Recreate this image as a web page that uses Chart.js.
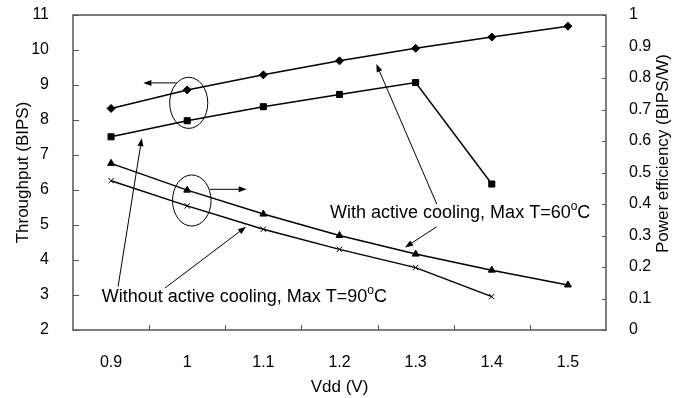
<!DOCTYPE html>
<html>
<head>
<meta charset="utf-8">
<script src="https://cdn.jsdelivr.net/npm/chart.js@4/dist/chart.umd.min.js"></script>
<style>
html,body{margin:0;padding:0;background:#fff;}
#wrap{width:684px;height:398px;}
</style>
</head>
<body>
<div id="wrap"><canvas id="c" width="684" height="398"></canvas></div>
<script>
// ---- data ----
const vddLabels = ['0.9', '1', '1.1', '1.2', '1.3', '1.4', '1.5'];
const throughputActive = [8.33, 8.86, 9.29, 9.69, 10.05, 10.37, 10.68];
const throughputPassive = [7.52, 7.98, 8.38, 8.73, 9.07, 6.17, null];
const efficiencyActive = [0.529, 0.444, 0.368, 0.300, 0.241, 0.190, 0.143];
const efficiencyPassive = [0.474, 0.394, 0.320, 0.256, 0.198, 0.106, null];
const leftTicks = [2, 3, 4, 5, 6, 7, 8, 9, 10, 11];
const rightTicks = [0, 0.1, 0.2, 0.3, 0.4, 0.5, 0.6, 0.7, 0.8, 0.9, 1];
const textWith = ['With active cooling, Max T=60', 'o', 'C'];
const textWithout = ['Without active cooling, Max T=90', 'o', 'C'];
const leftTitle = 'Throughput (BIPS)';
const rightTitle = 'Power efficiency (BIPS/W)';
const xTitle = 'Vdd (V)';

const FONT = "'Liberation Sans', Arial, Helvetica, sans-serif";

// annotation geometry in data units (x: category index, y: left axis value)
const ellipses = [
  {cx: 1.02, cy: 8.49, rx: 0.25, ry: 0.73},
  {cx: 1.06, cy: 5.70, rx: 0.253, ry: 0.73}
];
const arrows = [
  {x1: 0.862, y1: 9.06, x2: 0.424, y2: 9.06},
  {x1: 1.30, y1: 6.02, x2: 1.78, y2: 6.02},
  {x1: 0.092, y1: 3.24, x2: 0.403, y2: 7.48},
  {x1: 0.708, y1: 3.20, x2: 1.772, y2: 4.95},
  {x1: 4.277, y1: 5.60, x2: 3.484, y2: 9.60},
  {x1: 4.277, y1: 4.95, x2: 3.861, y2: 4.36}
];
const texts = [
  {parts: textWith, x: 2.876, y: 5.33},
  {parts: textWithout, x: -0.123, y: 2.93}
];

const annot = {
  id: 'annot',
  afterDraw(chart) {
    const ctx = chart.ctx;
    const xs = chart.scales.x, ys = chart.scales.y, y2 = chart.scales.y2;
    const X = v => xs.getPixelForValue(v);
    const Y = v => ys.getPixelForValue(v);
    const a = chart.chartArea;
    ctx.save();
    // frame
    ctx.strokeStyle = '#3a3a3a';
    ctx.lineWidth = 1.3;
    ctx.strokeRect(a.left, a.top, a.right - a.left, a.bottom - a.top);
    // inward ticks
    ctx.lineWidth = 1;
    ctx.strokeStyle = '#555';
    ctx.beginPath();
    leftTicks.forEach(v => {
      const py = Math.round(Y(v)) + 0.5;
      ctx.moveTo(a.left, py); ctx.lineTo(a.left + 6, py);
    });
    rightTicks.forEach(v => {
      const py = Math.round(y2.getPixelForValue(v)) + 0.5;
      ctx.moveTo(a.right, py); ctx.lineTo(a.right - 4, py);
    });
    for (let i = 0; i < vddLabels.length - 1; i++) {
      const px = Math.round(X(i + 0.5)) + 0.5;
      ctx.moveTo(px, a.bottom); ctx.lineTo(px, a.bottom - 5);
    }
    ctx.stroke();

    // ellipses
    ctx.strokeStyle = '#000';
    ctx.lineWidth = 1;
    ellipses.forEach(e => {
      ctx.beginPath();
      ctx.ellipse(X(e.cx), Y(e.cy), Math.abs(X(e.cx + e.rx) - X(e.cx)), Math.abs(Y(e.cy + e.ry) - Y(e.cy)), 0, 0, Math.PI * 2);
      ctx.stroke();
    });
    // arrows
    arrows.forEach(r => {
      const px1 = X(r.x1), py1 = Y(r.y1), px2 = X(r.x2), py2 = Y(r.y2);
      const ang = Math.atan2(py2 - py1, px2 - px1);
      const L = 8, W = 3;
      ctx.beginPath();
      ctx.moveTo(px1, py1);
      ctx.lineTo(px2 - Math.cos(ang) * L * 0.8, py2 - Math.sin(ang) * L * 0.8);
      ctx.stroke();
      ctx.beginPath();
      ctx.moveTo(px2, py2);
      ctx.lineTo(px2 - Math.cos(ang) * L - Math.sin(ang) * W, py2 - Math.sin(ang) * L + Math.cos(ang) * W);
      ctx.lineTo(px2 - Math.cos(ang) * L + Math.sin(ang) * W, py2 - Math.sin(ang) * L - Math.cos(ang) * W);
      ctx.closePath();
      ctx.fillStyle = '#000';
      ctx.fill();
    });
    // texts with superscript
    ctx.fillStyle = '#000';
    ctx.textBaseline = 'middle';
    ctx.textAlign = 'left';
    texts.forEach(t => {
      let px = X(t.x);
      const py = Y(t.y);
      ctx.font = '18px ' + FONT;
      ctx.fillText(t.parts[0], px, py);
      px += ctx.measureText(t.parts[0]).width;
      ctx.font = '12px ' + FONT;
      ctx.fillText(t.parts[1], px, py - 7);
      px += ctx.measureText(t.parts[1]).width;
      ctx.font = '18px ' + FONT;
      ctx.fillText(t.parts[2], px, py);
    });
    // right axis title (reads bottom to top)
    ctx.save();
    ctx.translate(663, y2.getPixelForValue(0.56));
    ctx.rotate(-Math.PI / 2);
    ctx.textAlign = 'center';
    ctx.textBaseline = 'middle';
    ctx.font = '17px ' + FONT;
    ctx.fillText(rightTitle, 0, 0);
    ctx.restore();
    ctx.restore();
  }
};

const lineDs = (label, data, axis, style, radius, filled) => ({
  label, data, yAxisID: axis,
  borderColor: '#000', borderWidth: 1.5,
  pointStyle: style, pointRadius: radius, pointHoverRadius: radius,
  pointBackgroundColor: filled ? '#000' : 'rgba(0,0,0,0)',
  pointBorderColor: '#000', pointBorderWidth: 1,
  fill: false, tension: 0, spanGaps: false
});

const noPad = s => { s.paddingTop = 0; s.paddingBottom = 0; s.paddingLeft = 0; s.paddingRight = 0; };

new Chart(document.getElementById('c'), {
  type: 'line',
  data: {
    labels: vddLabels,
    datasets: [
      lineDs('Throughput, active cooling', throughputActive, 'y', 'rectRot', 4, true),
      lineDs('Throughput, no active cooling', throughputPassive, 'y', 'rect', 4.3, true),
      lineDs('Efficiency, active cooling', efficiencyActive, 'y2', 'triangle', 4, true),
      lineDs('Efficiency, no active cooling', efficiencyPassive, 'y2', 'crossRot', 3.8, false)
    ]
  },
  plugins: [annot],
  options: {
    responsive: false,
    animation: false,
    layout: {padding: {top: 15, left: 0, right: 0, bottom: 0}},
    plugins: {legend: {display: false}, tooltip: {enabled: false}},
    scales: {
      x: {
        type: 'category', offset: true,
        grid: {display: false}, border: {display: false},
        ticks: {color: '#000', font: {size: 16, family: FONT}, padding: 15, maxRotation: 0},
        title: {display: true, text: xTitle, color: '#000', font: {size: 17, family: FONT}, padding: {top: 5, bottom: 0}},
        afterFit: s => { s.height = 68; noPad(s); }
      },
      y: {
        position: 'left', min: 2, max: 11,
        grid: {display: false}, border: {display: false},
        afterBuildTicks: s => { s.ticks = leftTicks.map(v => ({value: v})); },
        ticks: {color: '#000', font: {size: 16, family: FONT}, padding: 16},
        title: {display: true, text: leftTitle, color: '#000', font: {size: 17, family: FONT}, padding: {top: 13, bottom: 0}},
        afterFit: s => { s.width = 73; noPad(s); }
      },
      y2: {
        position: 'right', min: 0, max: 1,
        grid: {display: false}, border: {display: false},
        afterBuildTicks: s => { s.ticks = rightTicks.map(v => ({value: v})); },
        ticks: {color: '#000', font: {size: 16, family: FONT}, padding: 15,
          callback: v => String(+v.toFixed(1))},
        title: {display: false},
        afterFit: s => { s.width = 78; noPad(s); }
      }
    }
  }
});
</script>
</body>
</html>
